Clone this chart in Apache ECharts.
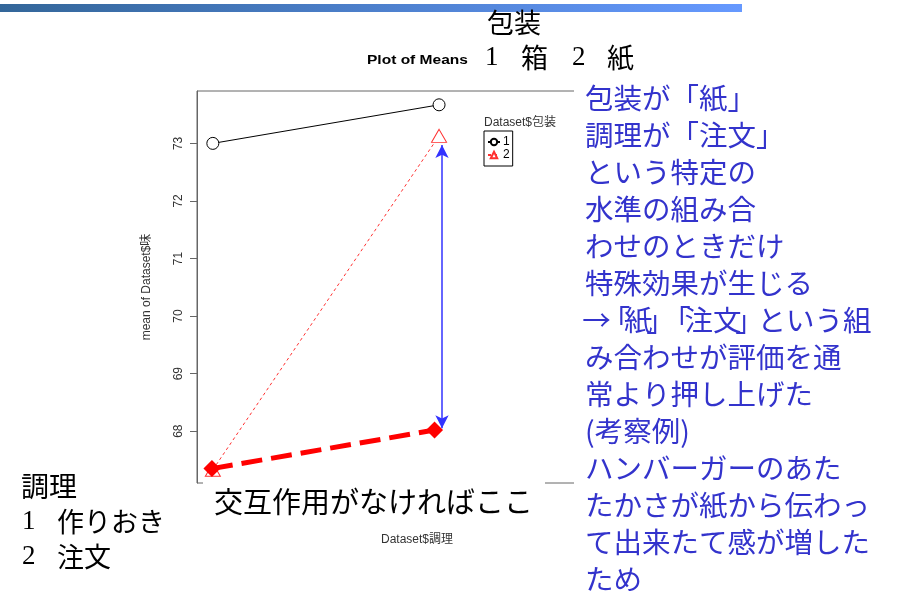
<!DOCTYPE html>
<html><head><meta charset="utf-8">
<script src="https://cdn.jsdelivr.net/npm/echarts@6/dist/echarts.min.js"></script>
<style>html,body{margin:0;padding:0;background:#fff}#c{width:899px;height:591px}</style>
</head><body><div id="c"></div>
<script>
// 調理 levels (x) : 1 作りおき, 2 注文
const categories = [1, 2];
// 包装 = 1 (箱)
const means1 = [73.0, 73.67];
// 包装 = 2 (紙)
const means2 = [67.33, 73.13];
// expected means for 紙 if there were no interaction
const noInterX = [0.996, 1.98];
const noInterY = [67.35, 68.02];
// arrow showing the interaction effect
const arrowX = 2.013;
const arrowFrom = 72.97;
const arrowTo = 68.05;
const yTicks = [68, 69, 70, 71, 72, 73];
const xTicks = [1, 2];
const noteLines = ['包装が「紙」','調理が「注文」','という特定の','水準の組み合','わせのときだけ','特殊効果が生じる','→「紙」「注文」という組','み合わせが評価を通','常より押し上げた','(考察例)','ハンバーガーのあた','たかさが紙から伝わっ','て出来たて感が増した','ため'];

const JP = "'Noto Sans CJK JP', sans-serif";
const SANS = "'Liberation Sans', Arial, 'Noto Sans CJK JP', sans-serif";
const SERIF = "'Liberation Serif', 'Times New Roman', serif";

const NOTE_FS = 28.5;
const noteBase = {fontFamily: JP, fontSize: NOTE_FS, fill: '#3333cc'};
const noteRich = {
  ob: Object.assign({width: 16, align: 'right'}, noteBase),
  cb: Object.assign({width: 16, align: 'left'}, noteBase),
  ar: Object.assign({width: 23, align: 'center'}, noteBase)
};
function richLine(s) {
  // the line starting with an arrow is set with narrow (proportional) brackets
  if (s.indexOf('→') < 0) return s;
  return s.replace(/「/g, '{ob|「}').replace(/」/g, '{cb|」}').replace(/→/g, '{ar|→}');
}
const noteGraphics = noteLines.map((s, i) => ({
  type: 'text', x: 585, y: 98 + 37 * i, z: 101,
  style: Object.assign({text: richLine(s), textVerticalAlign: 'middle', rich: noteRich}, noteBase)
}));

const chart = echarts.init(document.getElementById('c'), null, {renderer: 'canvas'});
chart.setOption({
  animation: false,
  backgroundColor: '#fff',
  grid: {left: 197, top: 91, width: 440, height: 392, show: true, borderColor: '#666', borderWidth: 1, backgroundColor: 'transparent'},
  xAxis: {
    type: 'value', min: 0.93, max: 2.875,
    name: 'Dataset$調理', nameLocation: 'middle', nameGap: 51,
    nameTextStyle: {fontFamily: SANS, fontSize: 12, color: '#333'},
    axisLine: {show: false}, splitLine: {show: false},
    axisTick: {show: true, customValues: xTicks, length: 7, lineStyle: {color: '#666'}},
    axisLabel: {customValues: xTicks, fontFamily: SANS, fontSize: 12, color: '#333'}
  },
  yAxis: {
    type: 'value', min: 67.1, max: 73.91,
    name: 'mean of Dataset$味', nameLocation: 'middle', nameGap: 44,
    nameTextStyle: {fontFamily: SANS, fontSize: 12, color: '#333'},
    axisLine: {show: true, lineStyle: {color: '#666'}}, splitLine: {show: false},
    axisTick: {show: true, customValues: yTicks, length: 7, lineStyle: {color: '#666'}},
    axisLabel: {customValues: yTicks, rotate: 90, margin: 12, fontFamily: SANS, fontSize: 12, color: '#333'}
  },
  legend: {
    data: ['1', '2'], orient: 'vertical', left: 484, top: 131,
    padding: [5, 3, 5, 3], itemGap: 1, itemWidth: 12, itemHeight: 8,
    borderColor: '#000', borderWidth: 1, backgroundColor: '#fff',
    textStyle: {fontFamily: SANS, fontSize: 12, color: '#000', padding: [0, 0, 0, -2]}
  },
  series: [
    {
      name: '1', type: 'line', data: categories.map((c, i) => [c, means1[i]]),
      symbol: 'circle', symbolSize: 12,
      itemStyle: {color: '#fff', borderColor: '#000', borderWidth: 1},
      lineStyle: {color: '#000', width: 1}, z: 3
    },
    {
      name: '2', type: 'line', data: categories.map((c, i) => [c, means2[i]]),
      symbol: 'triangle', symbolSize: [15, 13],
      itemStyle: {color: '#fff', borderColor: '#ff3030', borderWidth: 1},
      lineStyle: {color: '#ff3030', width: 1, type: [3, 3]}, z: 3
    },
    {
      name: 'noint', type: 'line', data: noInterX.map((x, i) => [x, noInterY[i]]),
      symbol: 'diamond', symbolSize: [17, 17],
      itemStyle: {color: '#ff0000'},
      lineStyle: {color: '#ff0000', width: 5, type: [21, 9]}, z: 4,
      markLine: {
        silent: true, symbol: ['arrow', 'arrow'], symbolSize: [10, 13],
        label: {show: false},
        lineStyle: {color: '#3333ff', width: 1.5, type: 'solid'},
        data: [[{coord: [arrowX, arrowFrom]}, {coord: [arrowX, arrowTo]}]]
      }
    }
  ],
  graphic: [
    {type: 'rect', shape: {x: 0, y: 4, width: 742, height: 8}, z: 100,
     style: {fill: new echarts.graphic.LinearGradient(0, 0, 1, 0, [{offset: 0, color: '#336699'}, {offset: 1, color: '#6699ff'}])}},
    {type: 'rect', shape: {x: 574, y: 80, width: 325, height: 511}, z: 100, style: {fill: '#fff'}},
    {type: 'rect', shape: {x: 203, y: 481, width: 342, height: 42}, z: 100, style: {fill: '#fff'}},
    {type: 'text', x: 487, y: 23, z: 101, style: {text: '包装', fontFamily: JP, fontSize: 27, fill: '#000', textVerticalAlign: 'middle'}},
    {type: 'text', x: 367, y: 60, z: 101, scaleX: 1.15, style: {text: 'Plot of Means', fontFamily: SANS, fontWeight: 'bold', fontSize: 13.5, fill: '#000', textVerticalAlign: 'middle'}},
    {type: 'text', x: 485, y: 58, z: 101, style: {text: '1', fontFamily: SERIF, fontSize: 27, fill: '#000', textVerticalAlign: 'middle'}},
    {type: 'text', x: 521, y: 58, z: 101, style: {text: '箱', fontFamily: JP, fontSize: 27, fill: '#000', textVerticalAlign: 'middle'}},
    {type: 'text', x: 572, y: 58, z: 101, style: {text: '2', fontFamily: SERIF, fontSize: 27, fill: '#000', textVerticalAlign: 'middle'}},
    {type: 'text', x: 607, y: 58, z: 101, style: {text: '紙', fontFamily: JP, fontSize: 27, fill: '#000', textVerticalAlign: 'middle'}},
    {type: 'text', x: 484, y: 123, z: 101, style: {text: 'Dataset$包装', fontFamily: SANS, fontSize: 12, fill: '#333', textVerticalAlign: 'middle'}},
    {type: 'text', x: 214, y: 502, z: 101, style: {text: '交互作用がなければここ', fontFamily: JP, fontSize: 29, fill: '#000', textVerticalAlign: 'middle'}},
    {type: 'text', x: 21, y: 486, z: 101, style: {text: '調理', fontFamily: JP, fontSize: 28, fill: '#000', textVerticalAlign: 'middle'}},
    {type: 'text', x: 22, y: 522, z: 101, style: {text: '1', fontFamily: SERIF, fontSize: 27, fill: '#000', textVerticalAlign: 'middle'}},
    {type: 'text', x: 57, y: 522, z: 101, style: {text: '作りおき', fontFamily: JP, fontSize: 27, fill: '#000', textVerticalAlign: 'middle'}},
    {type: 'text', x: 22, y: 557, z: 101, style: {text: '2', fontFamily: SERIF, fontSize: 27, fill: '#000', textVerticalAlign: 'middle'}},
    {type: 'text', x: 57, y: 557, z: 101, style: {text: '注文', fontFamily: JP, fontSize: 27, fill: '#000', textVerticalAlign: 'middle'}}
  ].concat(noteGraphics)
});
</script></body></html>
